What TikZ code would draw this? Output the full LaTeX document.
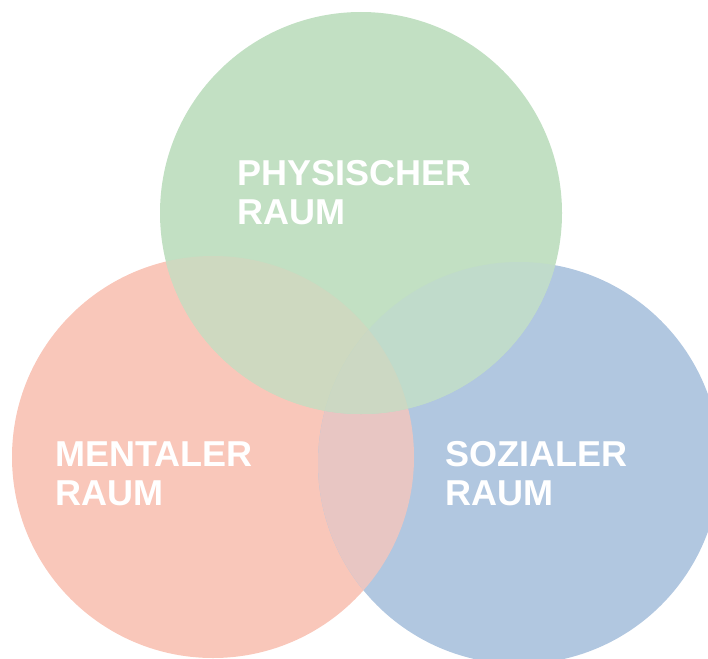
\documentclass[tikz,border=0pt]{standalone}
\usepackage{fontspec}
\setmainfont{Liberation Sans}
\definecolor{cG}{HTML}{C2E0C3}
\definecolor{cR}{HTML}{F9C7BA}
\definecolor{cB}{HTML}{B1C7E0}
\definecolor{cRB}{HTML}{E8C6C3}
\definecolor{cRG}{HTML}{CED9C0}
\definecolor{cGB}{HTML}{C0DBCB}
\definecolor{cRGB}{HTML}{CCD8C3}
\tikzset{
  lbl/.style={anchor=base west, inner sep=0pt, text=white, align=left,
    font=\fontsize{36}{39}\selectfont\bfseries}
}
\begin{document}
\begin{tikzpicture}[x=1pt,y=-1pt]
\useasboundingbox (0,0) rectangle (708,658);
\clip (0,0) rectangle (708,658);
% single circles
\fill[cR] (213,457) circle[radius=201];
\fill[cB] (519,463) circle[radius=201];
\fill[cG] (361,213) circle[radius=201];
% pairwise overlaps
\begin{scope}
  \clip (213,457) circle[radius=201];
  \fill[cRB] (519,463) circle[radius=201];
  \fill[cRG] (361,213) circle[radius=201];
\end{scope}
\begin{scope}
  \clip (361,213) circle[radius=201];
  \fill[cGB] (519,463) circle[radius=201];
\end{scope}
% triple overlap
\begin{scope}
  \clip (213,457) circle[radius=201];
  \clip (361,213) circle[radius=201];
  \fill[cRGB] (519,463) circle[radius=201];
\end{scope}
% labels (anchor = baseline of the last line)
\node[lbl] (phys) at (237,224) {PHYSISCHER\\RAUM};
\node[lbl] (ment) at (55,505) {MENTALER\\RAUM};
\node[lbl] (soz) at (445,505) {SOZIALER\\RAUM};
\end{tikzpicture}
\end{document}
